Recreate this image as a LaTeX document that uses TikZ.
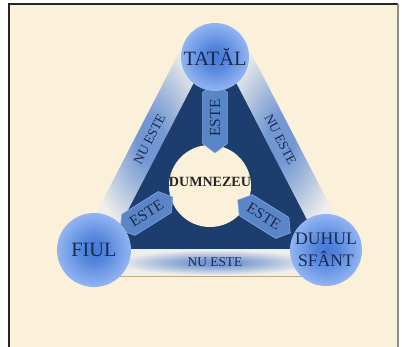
\documentclass[tikz,border=0pt]{standalone}
\usepackage{fontspec}
\setmainfont{Liberation Serif}
\usepackage{tikz}
\usetikzlibrary{calc}
\usetikzlibrary{shapes.arrows}
\definecolor{paper}{HTML}{FBF1DA}
\definecolor{navy}{HTML}{1D3D6E}
\definecolor{ink}{HTML}{1A2A4E}
\definecolor{persdark}{HTML}{4479D6}
\definecolor{perslight}{HTML}{92B5F2}
\definecolor{bandblue}{HTML}{7397D3}
\definecolor{bandpale}{HTML}{EEEEEA}
\definecolor{arrowblue}{HTML}{5A86C8}
\definecolor{arrowrim}{HTML}{8AACE0}
\definecolor{rule}{HTML}{C2AC88}
\pgfdeclareradialshading{persglow}{\pgfpoint{0bp}{0bp}}{color(0bp)=(persdark); color(8bp)=(persdark!80!perslight); color(25bp)=(perslight); color(50bp)=(perslight)}
\pgfdeclareradialshading{bandglow}{\pgfpoint{0bp}{0bp}}{color(0bp)=(bandblue); color(5bp)=(bandblue); color(23bp)=(bandpale); color(50bp)=(bandpale)}
\tikzset{pers/.style={circle,inner sep=0pt,shading=persglow,text=ink,align=center}}
\tikzset{este/.style={double arrow,double arrow head extend=0pt,double arrow tip angle=105,fill=arrowblue,draw=arrowrim,line width=0.4pt,text=ink,inner sep=1pt,minimum width=0.62cm,font=\fontsize{11}{11}\selectfont}}
\tikzset{band/.style={rectangle,shading=bandglow,minimum width=5.83cm,minimum height=0.675cm,inner sep=0pt,text=ink,font=\fontsize{9.5}{9.5}\selectfont}}

\begin{document}
\begin{tikzpicture}[x=0.025cm,y=0.025cm]
\useasboundingbox (0,0) rectangle (402,347);
\fill[white] (0,0) rectangle (402,347);
\fill[paper] (9,0) rectangle (398,343);
\draw[black!85,line width=0.035cm] (9,0) -- (9,343) -- (398,343);
\draw[black!45,line width=0.05cm] (398,343) -- (398,0);

\coordinate (A) at (215,305);
\coordinate (B) at (108,98);
\coordinate (C) at (322,98);

\node[band,rotate=62.67] (L) at (149.5,207.7) {NU ESTE};
\node[band,rotate=-62.67] (R) at (280.5,207.7) {NU ESTE};
\node[band,minimum width=5.35cm] (U) at (215,84.5) {NU ESTE};
\draw[rule,line width=0.03cm] (U.south west) -- (U.south east);

\fill[navy] (A) -- (B) -- (C) -- cycle;
\node[circle,fill=paper,minimum size=2.05cm,inner sep=0pt] (G) at (210,161) {};
\node[font=\bfseries\fontsize{10}{10}\selectfont,text=black!85] (Gt) at (210,165) {DUMNEZEU};

\foreach \n/\x/\y/\a/\l in {1/215/229/90/1.75,2/146.5/133.5/32/1.55,3/264/130.5/-32/1.55}
{
	\node[este,rotate=\a,minimum height=\l cm] (E\n) at (\x,\y) {ESTE};
}

\node[pers,minimum size=1.7cm,font=\fontsize{14.5}{14.5}\selectfont] (T) at (215,290) {TATĂL};
\node[pers,minimum size=1.85cm,font=\fontsize{14.5}{14.5}\selectfont] (F) at (94,97) {FIUL};
\node[pers,minimum size=1.8cm,font=\fontsize{12.5}{16}\selectfont] (D) at (326,97) {DUHUL\\SFÂNT};
\end{tikzpicture}
\end{document}
